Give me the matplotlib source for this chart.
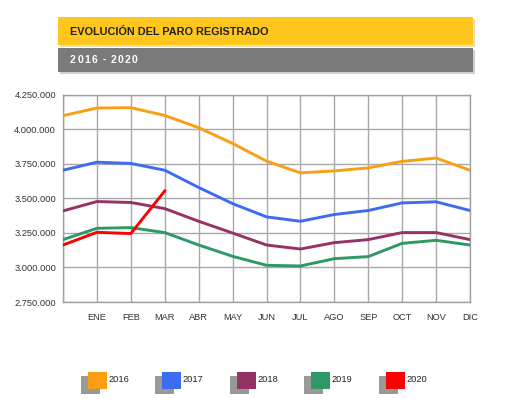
import matplotlib
matplotlib.use("Agg")
import matplotlib.pyplot as plt
from matplotlib.patches import Rectangle
import numpy as np

plt.rcParams['font.family'] = ['Liberation Sans', 'DejaVu Sans']

months = ["", "ENE", "FEB", "MAR", "ABR", "MAY", "JUN", "JUL", "AGO", "SEP", "OCT", "NOV", "DIC"]
s2016 = [4100000, 4156000, 4158000, 4102000, 4013000, 3899000, 3771000, 3686000, 3700000, 3722000, 3769000, 3793000, 3705000]
s2017 = [3705000, 3763000, 3754000, 3705000, 3580000, 3463000, 3367000, 3335000, 3384000, 3413000, 3468000, 3476000, 3413000]
s2018 = [3410000, 3478000, 3471000, 3427000, 3335000, 3250000, 3163000, 3134000, 3180000, 3202000, 3253000, 3253000, 3202000]
s2019 = [3202000, 3284000, 3289000, 3253000, 3163000, 3081000, 3016000, 3011000, 3064000, 3079000, 3175000, 3197000, 3163000]
s2020 = [3163000, 3255000, 3246000, 3555000]
years = ["2016", "2017", "2018", "2019", "2020"]
colors = ["#FA9E14", "#3D6CF2", "#963264", "#2E9966", "#FF0000"]
series = [s2016, s2017, s2018, s2019, s2020]
title = "EVOLUCIÓN DEL PARO REGISTRADO"
subtitle = "2016 - 2020"

W, H = 512, 399
fig = plt.figure(figsize=(W / 100, H / 100), dpi=100)

def fx(x):
    return x / W

def fy(y):
    return 1 - y / H

# header bars
fig.add_artist(Rectangle((fx(60), fy(47)), fx(415), 28 / H, transform=fig.transFigure,
                         facecolor="#d8c890", edgecolor="none", alpha=0.6))
fig.add_artist(Rectangle((fx(58), fy(45)), fx(415), 28 / H, transform=fig.transFigure,
                         facecolor="#FFC61E", edgecolor="none"))
fig.add_artist(Rectangle((fx(60), fy(74)), fx(415), 24 / H, transform=fig.transFigure,
                         facecolor="#b0b0b0", edgecolor="none", alpha=0.6))
fig.add_artist(Rectangle((fx(58), fy(72)), fx(415), 24 / H, transform=fig.transFigure,
                         facecolor="#7a7a7a", edgecolor="none"))
fig.text(fx(70), fy(32), title, fontsize=7.8, fontweight="bold", color="#222222", va="center", ha="left")

# letter-spaced subtitle
renderer = fig.canvas.get_renderer()
cx = 70.0
for ch in subtitle:
    t = fig.text(fx(cx), fy(60), ch, fontsize=7.5, fontweight="bold", color="white",
                 va="center", ha="left")
    w = t.get_window_extent(renderer=renderer).width
    if ch == " ":
        w = 2.2
    cx += w + 1.4

ax = fig.add_axes([fx(63), fy(302), fx(470) - fx(63), fy(95) - fy(302)])
x = np.arange(len(months))
for s, c in zip(series, colors):
    ax.plot(x[:len(s)], s, color=c, lw=2.1, solid_joinstyle="round", zorder=3)

ax.set_xlim(0, 12)
ax.set_ylim(2750000, 4250000)
ax.set_xticks(x)
ax.set_xticklabels(months)
yt = np.arange(2750000, 4250001, 250000)
ax.set_yticks(yt)
ax.set_yticklabels([f"{v:,}".replace(",", ".") for v in yt])
ax.grid(True, color="#a8a8a8", lw=1)
ax.set_axisbelow(True)
for sp in ax.spines.values():
    sp.set_color("#a0a0a0")
    sp.set_linewidth(1)
ax.tick_params(length=0, labelsize=6.7, colors="#333333", pad=5)
ax.tick_params(axis="x", pad=8)

# legend
lx = [88, 162, 237, 311, 386]
for px, yr, c in zip(lx, years, colors):
    fig.add_artist(Rectangle((fx(px - 7), fy(394)), fx(19), 18 / H, transform=fig.transFigure,
                             facecolor="#999999", edgecolor="none"))
    fig.add_artist(Rectangle((fx(px), fy(389)), fx(19), 17 / H, transform=fig.transFigure,
                             facecolor=c, edgecolor="none"))
    fig.text(fx(px + 21), fy(380), yr, fontsize=6.7, color="#222222", va="center", ha="left")

fig.savefig("out.png", dpi=100)
